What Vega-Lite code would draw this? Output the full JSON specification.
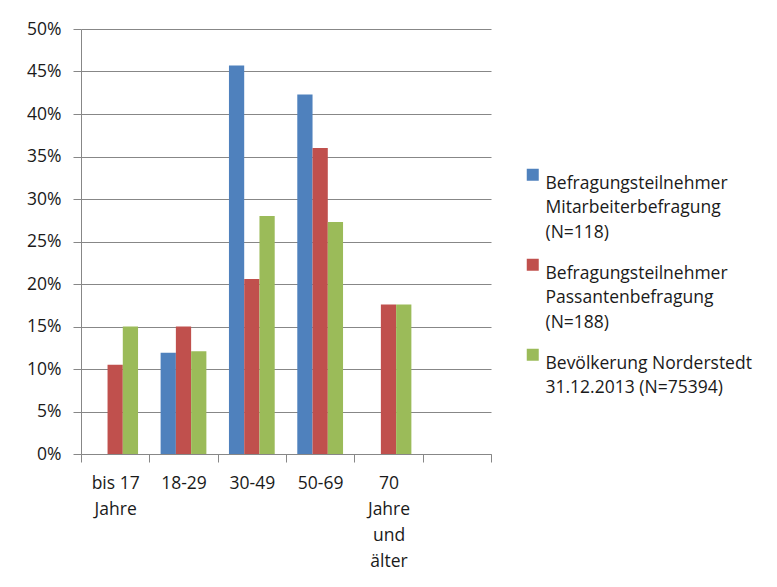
{
  "$schema": "https://vega.github.io/schema/vega-lite/v6.json",
  "width": 410,
  "height": 425,
  "autosize": {"type": "none"},
  "padding": {"left": 81, "top": 29, "right": 286, "bottom": 133},
  "background": "white",
  "config": {"view": {"stroke": null}, "font": "Open Sans"},
  "data": {
    "values": [
      {"age": "bis 17|Jahre", "series": "Befragungsteilnehmer|Passantenbefragung|(N=188)", "pct": 0.105},
      {"age": "bis 17|Jahre", "series": "Bevölkerung Norderstedt|31.12.2013 (N=75394)", "pct": 0.150},
      {"age": "18-29", "series": "Befragungsteilnehmer|Mitarbeiterbefragung|(N=118)", "pct": 0.119},
      {"age": "18-29", "series": "Befragungsteilnehmer|Passantenbefragung|(N=188)", "pct": 0.150},
      {"age": "18-29", "series": "Bevölkerung Norderstedt|31.12.2013 (N=75394)", "pct": 0.121},
      {"age": "30-49", "series": "Befragungsteilnehmer|Mitarbeiterbefragung|(N=118)", "pct": 0.457},
      {"age": "30-49", "series": "Befragungsteilnehmer|Passantenbefragung|(N=188)", "pct": 0.206},
      {"age": "30-49", "series": "Bevölkerung Norderstedt|31.12.2013 (N=75394)", "pct": 0.280},
      {"age": "50-69", "series": "Befragungsteilnehmer|Mitarbeiterbefragung|(N=118)", "pct": 0.423},
      {"age": "50-69", "series": "Befragungsteilnehmer|Passantenbefragung|(N=188)", "pct": 0.360},
      {"age": "50-69", "series": "Bevölkerung Norderstedt|31.12.2013 (N=75394)", "pct": 0.273},
      {"age": "70|Jahre|und|älter", "series": "Befragungsteilnehmer|Passantenbefragung|(N=188)", "pct": 0.176},
      {"age": "70|Jahre|und|älter", "series": "Bevölkerung Norderstedt|31.12.2013 (N=75394)", "pct": 0.176}
    ]
  },
  "mark": {"type": "bar"},
  "encoding": {
    "x": {
      "field": "age",
      "type": "nominal",
      "title": null,
      "scale": {
        "domain": ["bis 17|Jahre", "18-29", "30-49", "50-69", "70|Jahre|und|älter", " "],
        "paddingInner": 0,
        "paddingOuter": 0
      },
      "axis": {
        "labelExpr": "split(datum.label, '|')",
        "labelAngle": 0,
        "labelFontSize": 17.5,
        "labelColor": "#1a1a1a",
        "labelLineHeight": 26,
        "labelPadding": 12,
        "labelBaseline": "top",
        "tickBand": "extent",
        "tickSize": 8,
        "tickColor": "#878787",
        "domainColor": "#878787",
        "grid": false
      }
    },
    "xOffset": {
      "field": "series",
      "type": "nominal",
      "scale": {
        "domain": [
          "Befragungsteilnehmer|Mitarbeiterbefragung|(N=118)",
          "Befragungsteilnehmer|Passantenbefragung|(N=188)",
          "Bevölkerung Norderstedt|31.12.2013 (N=75394)"
        ],
        "paddingInner": 0,
        "paddingOuter": 0.74
      }
    },
    "y": {
      "field": "pct",
      "type": "quantitative",
      "title": null,
      "scale": {"domain": [0, 0.5], "nice": false},
      "axis": {
        "format": ".0%",
        "values": [0, 0.05, 0.1, 0.15, 0.2, 0.25, 0.3, 0.35, 0.4, 0.45, 0.5],
        "labelFontSize": 17.5,
        "labelColor": "#1a1a1a",
        "labelPadding": 12,
        "tickSize": 8,
        "tickColor": "#878787",
        "domainColor": "#878787",
        "gridColor": "#878787",
        "gridOpacity": 1,
        "grid": true
      }
    },
    "color": {
      "field": "series",
      "type": "nominal",
      "title": null,
      "scale": {
        "domain": [
          "Befragungsteilnehmer|Mitarbeiterbefragung|(N=118)",
          "Befragungsteilnehmer|Passantenbefragung|(N=188)",
          "Bevölkerung Norderstedt|31.12.2013 (N=75394)"
        ],
        "range": ["#4F81BD", "#C0504D", "#9BBB59"]
      },
      "legend": {
        "orient": "none",
        "legendX": 443,
        "legendY": 137,
        "labelExpr": "split(datum.label, '|')",
        "labelFontSize": 17.5,
        "labelColor": "#1a1a1a",
        "labelLimit": 400,
        "labelOffset": 4,
        "labelBaseline": "top",
        "symbolType": "square",
        "symbolSize": 144,
        "symbolStrokeWidth": 0,
        "symbolOpacity": 1,
        "rowPadding": 14,
        "encode": {
          "labels": {"update": {"lineHeight": {"value": 24.5}}}
        }
      }
    }
  }
}
